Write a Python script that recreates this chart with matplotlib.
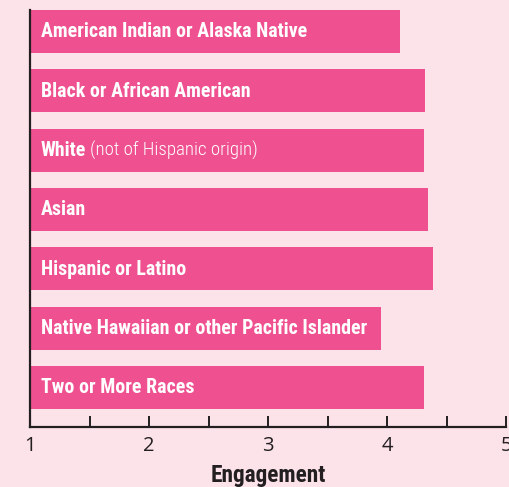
import matplotlib
matplotlib.use("Agg")
import matplotlib.pyplot as plt
from matplotlib.ticker import MultipleLocator

categories = [
    "American Indian or Alaska Native",
    "Black or African American",
    "White",
    "Asian",
    "Hispanic or Latino",
    "Native Hawaiian or other Pacific Islander",
    "Two or More Races",
]
suffixes = ["", "", " (not of Hispanic origin)", "", "", "", ""]
values = [4.11, 4.32, 4.31, 4.34, 4.38, 3.95, 4.31]
xticks = [1, 2, 3, 4, 5]
xlabel = "Engagement"

BG = "#fce3ea"
BAR = "#ef5190"
INK = "#231f20"
FONT = ["Roboto Condensed", "DejaVu Sans"]

fig = plt.figure(figsize=(5.10, 4.87), dpi=100, facecolor=BG)
ax = fig.add_axes([30/510, 1-427/487, 476.5/510, 417/487])
ax.set_facecolor(BG)

y = list(range(len(categories)))
base = 1
ax.barh(y, [v - base for v in values], left=base, height=0.725, color=BAR, zorder=2)
ax.set_xlim(1, 5)
ax.set_ylim(6.666, -0.3625)

for spine in ["top", "right"]:
    ax.spines[spine].set_visible(False)
for spine in ["left", "bottom"]:
    ax.spines[spine].set_color(INK)
    ax.spines[spine].set_linewidth(1.6)
    ax.spines[spine].set_zorder(3)

ax.set_yticks([])
ax.set_xticks(xticks)
ax.xaxis.set_minor_locator(MultipleLocator(0.5))
ax.tick_params(axis="x", which="both", direction="in", length=8, width=1.4,
               color=INK, pad=6.5, labelsize=14.5, labelcolor=INK)
for lab in ax.get_xticklabels():
    lab.set_family(["Open Sans", "DejaVu Sans"])

fig.canvas.draw()
renderer = fig.canvas.get_renderer()


def fit_size(text, weight, target_px):
    probe = fig.text(0, 0, text, fontsize=10, fontweight=weight, family=FONT)
    w10 = probe.get_window_extent(renderer=renderer).width
    probe.remove()
    return 10 * target_px / w10


fs = fit_size(categories[0], "bold", 266)
fs_x = fit_size(xlabel, "bold", 115)
fs_s = 0.5 * (fs + fit_size(suffixes[2].strip(), "light", 159))

fig.text(ax.get_position().x0 + ax.get_position().width / 2, 5/487, xlabel,
         fontsize=fs_x, fontweight="bold", color=INK, family=FONT,
         ha="center", va="baseline")

for i, (cat, suf) in enumerate(zip(categories, suffixes)):
    t = ax.text(1.092, i + 0.1, cat, color="white", fontsize=fs, fontweight="bold",
                family=FONT, va="baseline", ha="left", zorder=4)
    if suf:
        bb = t.get_window_extent(renderer=renderer)
        x_data = ax.transData.inverted().transform((bb.x1 + 4, 0))[0]
        ax.text(x_data, i + 0.1, suf.strip(), color="white", fontsize=fs_s,
                fontweight="light", family=FONT, va="baseline", ha="left", zorder=4)

fig.savefig("out.png", dpi=100, facecolor=BG)
